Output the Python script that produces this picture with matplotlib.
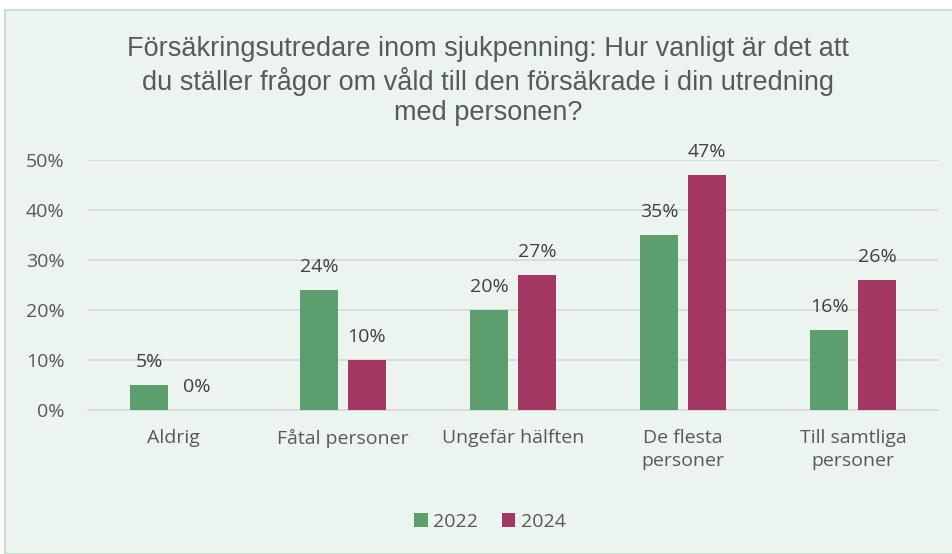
import matplotlib.pyplot as plt
import numpy as np
from matplotlib.patches import Rectangle

kategorier = ["Aldrig", "Fåtal personer", "Ungefär hälften", "De flesta\npersoner", "Till samtliga\npersoner"]
varden_2022 = [5, 24, 20, 35, 16]
varden_2024 = [0, 10, 27, 47, 26]
ar = ["2022", "2024"]
titel = ("Försäkringsutredare inom sjukpenning: Hur vanligt är det att\n"
         "du ställer frågor om våld till den försäkrade i din utredning\n"
         "med personen?")

GRON = "#5C9E6E"
LILA = "#A53862"
TEXT = "#595959"
BG = "#EBF4EE"
FONT = "Open Sans"
FS = 14

fig = plt.figure(figsize=(9.52, 5.54), dpi=100, facecolor="white")
# bakgrundsruta (diagramytan)
fig.patches.append(Rectangle((5 / 952, 0), 1, 1 - 10 / 554, transform=fig.transFigure,
                             facecolor=BG, edgecolor="#C8E0D0", linewidth=1.5, zorder=-5))

ax = fig.add_axes([88 / 952, 1 - 410 / 554, 850 / 952, 250 / 554])
ax.set_facecolor("none")

x = np.arange(len(kategorier))
bredd = 0.2235
off = 0.141
b1 = ax.bar(x - off, varden_2022, bredd, color=GRON, label=ar[0], zorder=3)
b2 = ax.bar(x + off, varden_2024, bredd, color=LILA, label=ar[1], zorder=3)

for staplar, vals in ((b1, varden_2022), (b2, varden_2024)):
    for s, v in zip(staplar, vals):
        ax.annotate(f"{v}%", (s.get_x() + s.get_width() / 2, v), xytext=(0, 10),
                    textcoords="offset points", ha="center", va="bottom",
                    fontsize=FS, color="#404040", family=FONT)

ax.set_xlim(-0.5, len(kategorier) - 0.5)
ax.set_ylim(0, 50)
ax.set_yticks(range(0, 51, 10))
ax.set_yticklabels([f"{t}%" for t in range(0, 51, 10)])
ax.set_xticks(x)
ax.set_xticklabels(kategorier, linespacing=1.3)
ax.tick_params(length=0, labelsize=FS, labelcolor=TEXT)
ax.tick_params(axis="y", pad=17)
ax.tick_params(axis="x", pad=14)
for lbl in ax.get_xticklabels() + ax.get_yticklabels():
    lbl.set_family(FONT)
ax.grid(axis="y", color="#D9D9D9", linewidth=1.3, zorder=0)
for sida in ["top", "right", "left"]:
    ax.spines[sida].set_visible(False)
ax.spines["bottom"].set_color("#D9D9D9")
ax.spines["bottom"].set_linewidth(1.3)

fig.text(0.513, 1 - 36 / 554, titel, ha="center", va="top", fontsize=19.5,
         color=TEXT, family="Liberation Sans", linespacing=1.2)

fig.legend(loc="center", bbox_to_anchor=(490 / 952, 1 - 522 / 554), ncol=2, frameon=False,
           prop={"family": FONT, "size": FS}, labelcolor=TEXT,
           handlelength=0.7, handleheight=0.7, handletextpad=0.3, columnspacing=1.2)

fig.savefig("out.png", dpi=100, facecolor=fig.get_facecolor())
